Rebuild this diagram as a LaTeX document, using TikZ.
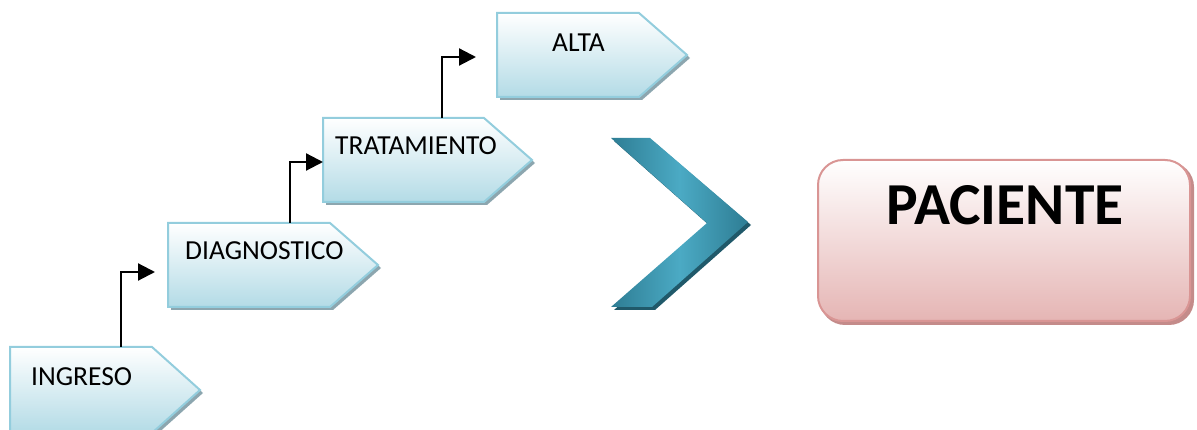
\documentclass[tikz,border=0pt]{standalone}
\usepackage{fontspec}
\setmainfont{Carlito}
\usetikzlibrary{arrows.meta}
\definecolor{bborder}{HTML}{93CDDD}
\definecolor{bfill}{HTML}{B3DBE6}
\definecolor{bshadow}{HTML}{8CA6AF}
\definecolor{cdark}{HTML}{2E7D94}
\definecolor{clight}{HTML}{4BAAC4}
\definecolor{cshadow}{HTML}{20596A}
\definecolor{pborder}{HTML}{D99594}
\definecolor{pfill}{HTML}{E5B5B4}
\definecolor{pshadow}{HTML}{C48B8A}
\tikzset{
  pbox/.style={draw=bborder, line width=2pt, top color=white, bottom color=bfill, line join=miter},
  pshad/.style={fill=bshadow},
  lbl/.style={font=\fontsize{27.5}{31}\selectfont, inner sep=0pt, anchor=base west},
  conn/.style={draw=black, line width=2.2pt, -{Triangle[length=17pt,width=17pt]}},
}
\newcommand{\pent}[5]{%
  \fill[pshad] (#2+3,#3+3) -- ++(#4-48,0) -- ++(48,#5/2) -- ++(-48,#5/2) -- ++(-#4+48,0) -- cycle;
  \path[pbox] (#2,#3) -- ++(#4-48,0) -- ++(48,#5/2) -- ++(-48,#5/2) -- ++(-#4+48,0) -- cycle;
  \coordinate (#1) at (#2,#3);
}
\begin{document}
\begin{tikzpicture}[x=1pt,y=-1pt]
\useasboundingbox (0,0) rectangle (1197,430);
% pentagons
\pent{ingreso}{10}{347}{190}{86}
\pent{diag}{168}{223}{210}{84}
\pent{trat}{323}{118}{209}{84}
\pent{alta}{497}{13}{190}{84}
% labels
\node[lbl] (tingreso) at (31,385) {INGRESO};
\node[lbl] (tdiag) at (185,260) {DIAGNOSTICO};
\node[lbl] (ttrat) at (335,155) {TRATAMIENTO};
\node[lbl] (talta) at (552,52) {ALTA};
% connectors
\coordinate (c1s) at (121,347);
\coordinate (c1e) at (155,272);
\coordinate (c2s) at (290,223);
\coordinate (c2e) at (323,162);
\coordinate (c3s) at (442,118);
\coordinate (c3e) at (476,57);
\draw[conn] (c1s) |- (c1e);
\draw[conn] (c2s) |- (c2e);
\draw[conn] (c3s) |- (c3e);
% chevron
\fill[cshadow] (614,141) -- (653,141) -- (751,225) -- (655,310) -- (614,310) -- (710,226) -- cycle;
\shade[left color=cdark, right color=cdark, middle color=clight] (611,138) -- (650,138) -- (748,222) -- (652,307) -- (611,307) -- (707,223) -- cycle;
\coordinate (chev) at (680,222);
% paciente
\fill[pshadow, rounded corners=25pt] (820,162) rectangle (1194,325);
\node[draw=pborder, line width=2pt, rounded corners=25pt, top color=white, bottom color=pfill,
      minimum width=372pt, minimum height=161pt, inner sep=0pt] (pac) at (1004,240.5) {};
\node[font=\fontsize{59.5}{62}\selectfont\bfseries, inner sep=0pt, anchor=base] (tpac) at (1005,225) {PACIENTE};
\end{tikzpicture}
\end{document}
